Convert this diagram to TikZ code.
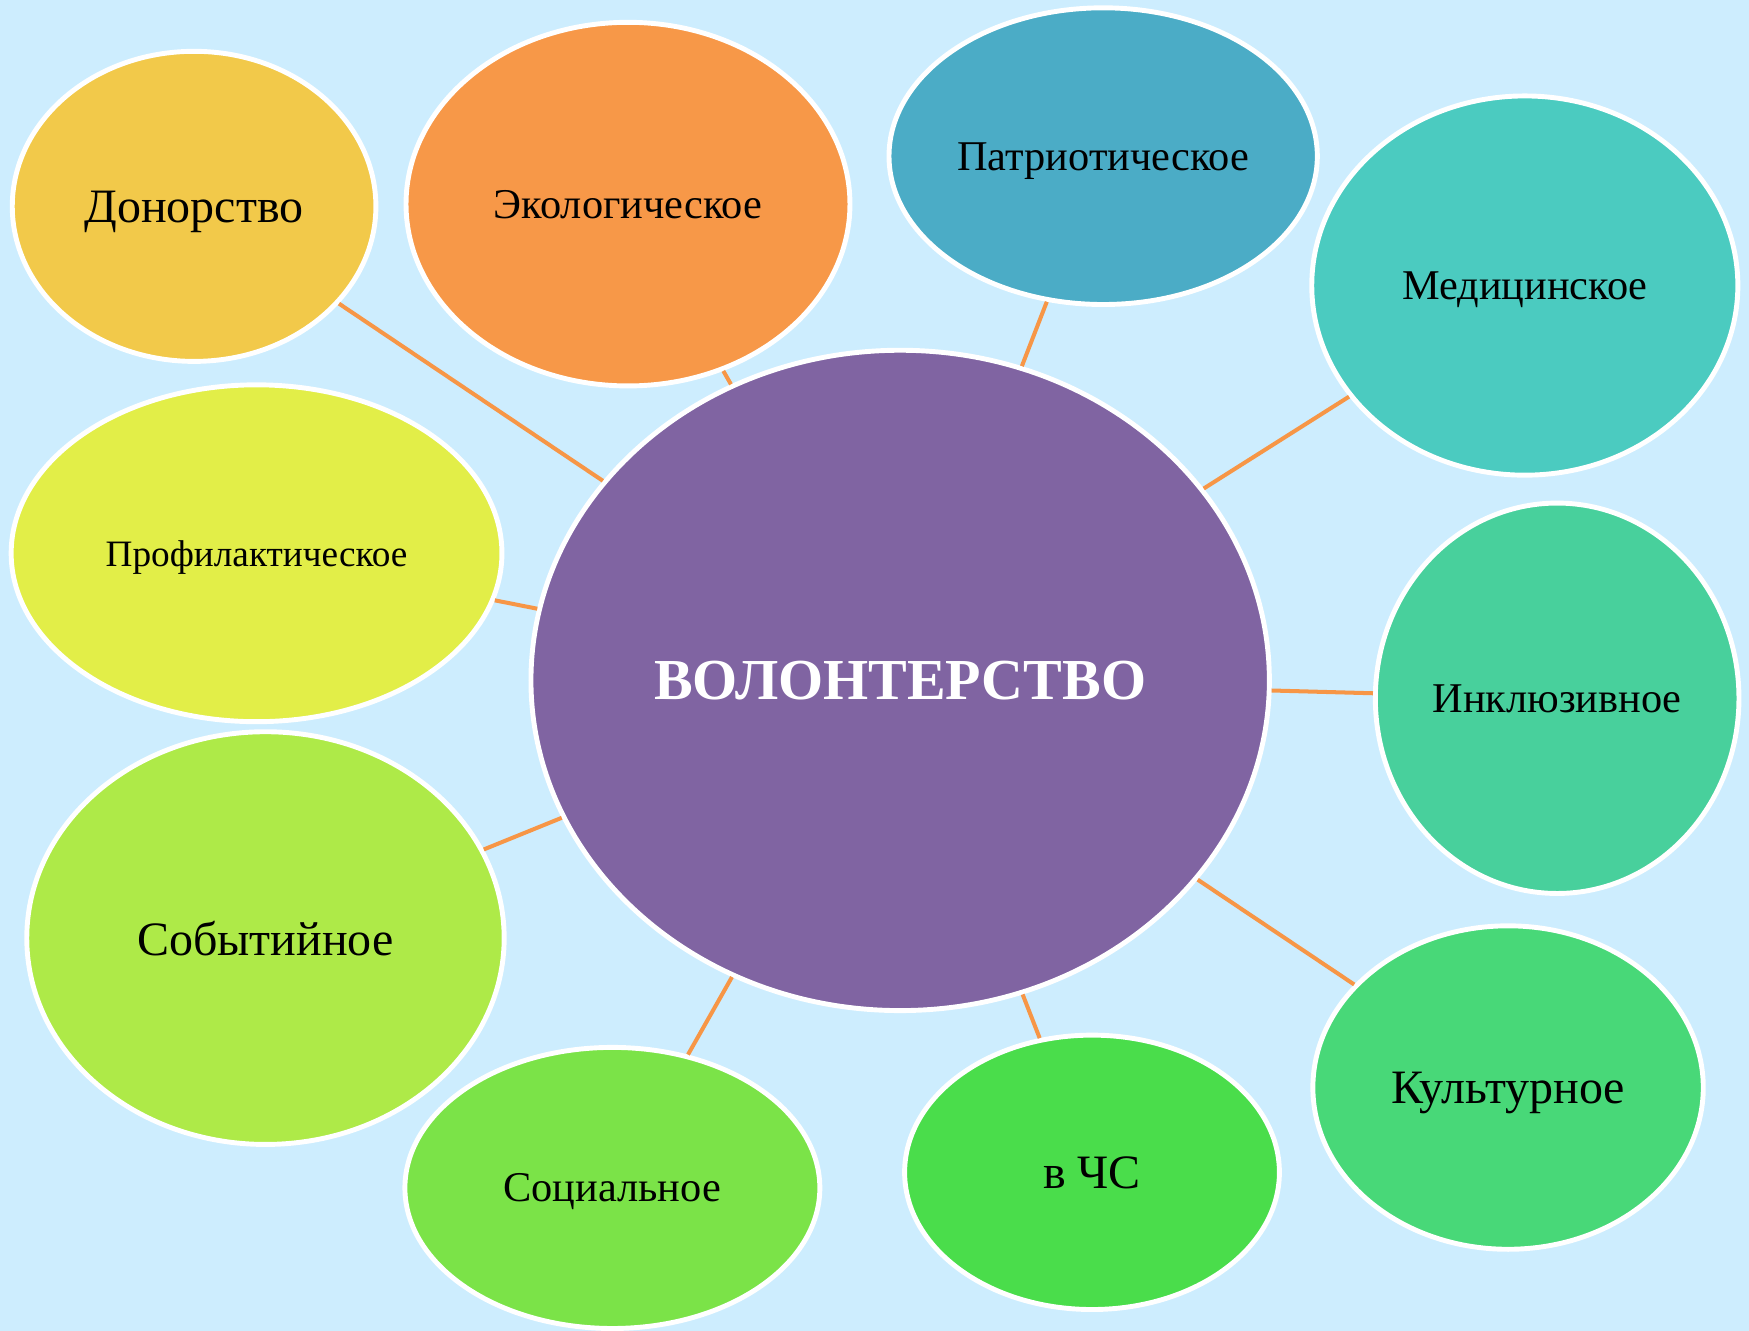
\documentclass[tikz,border=0pt]{standalone}
\usepackage{fontspec}
\setmainfont{Liberation Serif}
\usetikzlibrary{shapes.geometric}
\definecolor{bg}{HTML}{CDEDFE}
\definecolor{link}{HTML}{F79646}
\definecolor{cDon}{HTML}{F2C94A}
\definecolor{cEko}{HTML}{F79848}
\definecolor{cPat}{HTML}{4BACC6}
\definecolor{cMed}{HTML}{4BCBC0}
\definecolor{cPro}{HTML}{E2EE48}
\definecolor{cMain}{HTML}{8064A2}
\definecolor{cInk}{HTML}{48D09C}
\definecolor{cSob}{HTML}{AEEA48}
\definecolor{cSoc}{HTML}{7BE348}
\definecolor{cChs}{HTML}{4ADD4B}
\definecolor{cKul}{HTML}{48D878}
\tikzset{
  bub/.style n args={3}{ellipse, draw=white, line width=2.2pt, inner sep=0pt,
    text depth=0pt, fill=#3, minimum width=#1pt, minimum height=#2pt},
  big/.style={font=\fontsize{21.5}{25}\selectfont},
  mid/.style={font=\fontsize{19}{23}\selectfont},
  small/.style={font=\fontsize{16.7}{20}\selectfont},
  conn/.style={draw=link, line width=1.8pt}
}
\begin{document}
\begin{tikzpicture}[x=0.5pt,y=-0.5pt]
\fill[bg] (0,0) rectangle (1568,1193);
\useasboundingbox (0,0) rectangle (1568,1193);
\node[bub={163}{139}{cDon}, big] (don) at (174,185) {Донорство};
\node[bub={199}{163}{cEko}, mid] (eko) at (563,183) {Экологическое};
\node[bub={192}{133}{cPat}, mid] (pat) at (989,140) {Патриотическое};
\node[bub={191}{170}{cMed}, mid] (med) at (1367,256) {Медицинское};
\node[bub={220}{151}{cPro}, small] (pro) at (230,496) {Профилактическое};
\node[bub={331}{296}{cMain}, text=white, font=\fontsize{26}{30}\selectfont\bfseries] (main) at (807,610) {ВОЛОНТЕРСТВО};
\node[bub={163}{175}{cInk}, mid] (ink) at (1396,626) {Инклюзивное};
\node[bub={214}{185}{cSob}, big] (sob) at (238,841) {Событийное};
\node[bub={186}{126}{cSoc}, mid] (soc) at (549,1065) {Социальное};
\node[bub={168}{123}{cChs}, font=\fontsize{21.5}{25}\selectfont] (chs) at (979,1051) {в ЧС};
\node[bub={175}{145}{cKul}, big] (kul) at (1352,975) {Культурное};
\foreach \n in {don,eko,pat,med,pro,ink,sob,soc,chs,kul}
  \draw[conn] (\n) -- (main);
\end{tikzpicture}
\end{document}
